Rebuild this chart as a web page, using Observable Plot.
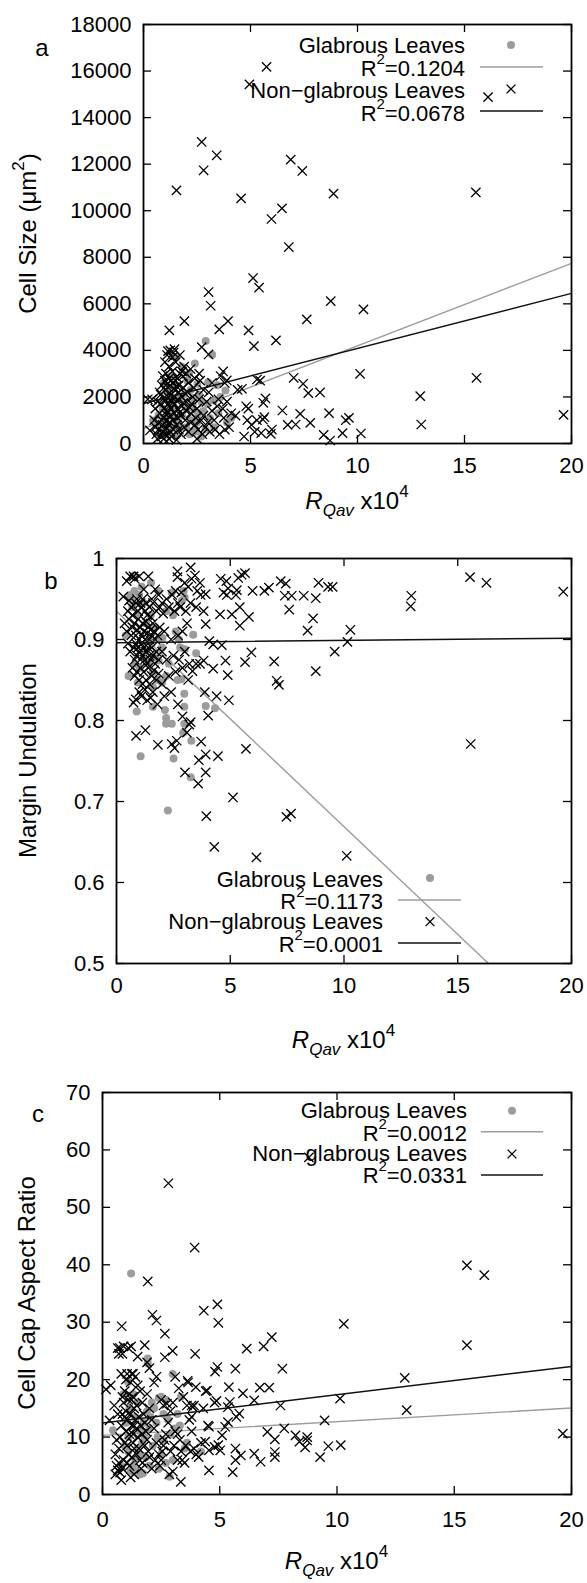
<!DOCTYPE html>
<html><head><meta charset="utf-8">
<script src="https://cdn.jsdelivr.net/npm/d3@7"></script>
<script src="https://cdn.jsdelivr.net/npm/@observablehq/plot@0.6"></script>
<style>body{margin:0;background:#fff;overflow:hidden}svg{display:block}</style>
</head><body><div id="chart"></div>
<script>
// ---------- DATA ----------
const xTicks = [0, 5, 10, 15, 20];
const yTicksA = [0, 2000, 4000, 6000, 8000, 10000, 12000, 14000, 16000, 18000];
const yTicksB = [0.5, 0.6, 0.7, 0.8, 0.9, 1];
const yTicksC = [0, 10, 20, 30, 40, 50, 60, 70];

const legendA = ["Glabrous Leaves", "0.1204", "Non\u2212glabrous Leaves", "0.0678"];
const legendB = ["Glabrous Leaves", "0.1173", "Non\u2212glabrous Leaves", "0.0001"];
const legendC = ["Glabrous Leaves", "0.0012", "Non\u2212glabrous Leaves", "0.0331"];

// fitted lines (endpoints)
const fitGlabA = [[0, 645], [20, 7740]];
const fitNonA = [[0, 1720], [20, 6450]];
const fitGlabB = [[0, 0.935], [16.35, 0.5]];
const fitNonB = [[0, 0.896], [20, 0.9016]];
const fitGlabC = [[0, 10.3], [20, 15.06]];
const fitNonC = [[0, 12.46], [20, 22.3]];

// Panel a: cell size
const glabA = [[2.91,4400],[3.21,3814],[2.40,3440],[2.13,3023],[3.02,2636],[2.52,2567],[3.83,2279],[3.29,1849],[2.7,1800],[2.3,1650],[2.0,1500],[1.8,1200],[1.6,900],[1.4,700],[1.2,500],[1.0,350],[0.8,600],[0.6,800],[0.45,989],[1.54,344],[1.9,2100],[2.2,2300],[2.6,2100],[2.8,1400],[3.1,1100],[3.5,1300],[3.3,700],[2.9,600],[2.5,900],[2.2,1000],[1.7,1900],[1.5,2500],[1.3,2900],[1.1,2200],[0.9,1500],[0.7,1200],[1.0,1000],[1.2,1300],[1.4,1600],[1.6,2000],[2.0,700],[2.4,500],[2.7,300],[3.6,2000],[3.9,900],[4.1,1100],[1.8,3300],[1.55,3700],[2.05,2700],[2.35,1950],[3.0,1700],[3.45,2500],[0.95,2600],[1.25,1800],[1.75,700],[2.15,400],[2.55,1300],[1.45,1100],[0.75,400],[1.05,800]];
const nonA = [[5.75,16180],[4.95,15430],[16.1,14880],[2.72,12954],[3.42,12381],[2.81,11736],[6.88,12195],[7.42,11708],[1.54,10876],[4.56,10532],[8.88,10733],[15.53,10790],[6.47,10103],[5.98,9644],[6.79,8440],[5.12,7108],[5.40,6692],[3.04,6506],[3.14,5918],[8.75,6119],[10.28,5761],[7.63,5331],[1.91,5259],[3.95,5259],[1.21,4858],[3.54,4901],[4.91,4858],[5.16,4184],[6.19,4428],[2.72,4141],[3.04,3826],[1.14,3970],[10.12,2995],[15.56,2823],[7.02,2823],[7.46,2565],[7.70,2164],[8.25,2192],[12.93,2035],[19.63,1232],[12.98,817],[10.16,430],[9.30,444],[8.72,129],[8.42,372],[9.6,1100],[9.45,1000],[8.67,1304],[7.79,888],[7.32,1275],[7.11,817],[6.74,802],[6.49,1418],[5.60,1748],[5.70,1934],[5.58,1031],[5.95,415],[5.3,2750],[5.45,2700],[4.8,1600],[4.9,1500],[4.85,1000],[4.6,2350],[4.4,2300],[4.1,1300],[4.3,1200],[4.0,700],[3.8,600],[3.6,2900],[3.8,2600],[5.2,500],[5.5,450],[5.05,800],[5.3,1000],[4.7,300],[6.0,600],[3.72,3095],[3.89,2708],[5.65,1130],
[0.2,1900],[0.4,1900],[0.3,560],[0.5,1000],[0.55,700],[0.6,400],[0.65,200],[0.7,600],[0.7,900],[0.75,1300],[0.8,1700],[0.8,2100],[0.85,2500],[0.85,300],[0.9,500],[0.9,800],[0.95,1100],[0.95,1500],[1.0,1800],[1.0,2300],[1.0,2700],[1.05,3000],[1.05,400],[1.1,650],[1.1,1000],[1.1,1400],[1.15,1700],[1.15,2000],[1.15,2400],[1.2,2800],[1.2,3300],[1.2,200],[1.25,500],[1.25,900],[1.25,1200],[1.3,1500],[1.3,1800],[1.3,2100],[1.35,2600],[1.35,3100],[1.35,3700],[1.4,3900],[1.4,600],[1.4,1000],[1.45,1300],[1.45,1700],[1.45,2000],[1.5,2300],[1.5,2700],[1.5,3500],[1.55,150],[1.55,800],[1.6,1100],[1.6,1500],[1.6,1900],[1.65,2200],[1.65,2500],[1.7,3000],[1.7,3800],[1.75,400],[1.75,1200],[1.8,1600],[1.8,2000],[1.85,2400],[1.85,2900],[1.9,3300],[1.9,700],[1.95,1000],[2.0,1400],[2.0,1800],[2.05,2200],[2.1,2600],[2.1,500],[2.2,900],[2.2,1300],[2.25,1700],[2.3,2000],[2.35,2400],[2.4,800],[2.45,1100],[2.5,1500],[2.55,600],[2.6,3000],[2.65,2700],[2.7,1000],[2.75,400],[2.8,1200],[2.9,700],[3.0,900],[3.05,2200],[3.1,500],[3.2,1400],[3.3,1000],[3.35,600],[3.45,1600],[3.5,1900],[3.55,400],[3.7,1500],[3.75,1100],[3.9,1800],[0.55,1500],[0.65,1800],[0.75,2200],[0.9,2900],[1.0,3500],[1.1,3800],[1.25,4000],[1.45,4050],[0.95,200],[1.3,300],[1.65,600],[1.05,1250],[1.2,1600],[1.35,1950],[1.55,2450],[1.7,1350],[1.85,1750],[1.95,2150],[1.0,600],[0.85,1000],[1.15,850],[1.4,2350],[1.6,2800],[1.8,3100],[1.3,2700],[1.1,2550],[0.95,1950],[2.0,3000],[2.2,3200],[2.4,2800],[2.15,1550],[2.6,1900],[2.8,2300],[2.5,200],[2.95,1800],[3.2,2600]];

// Panel b: margin undulation
const glabB = [[1.06,0.756],[2.26,0.689],[0.89,0.811],[1.6,0.817],[2.13,0.813],[2.18,0.803],[2.18,0.796],[2.43,0.796],[2.51,0.753],[2.98,0.817],[2.98,0.796],[2.93,0.785],[3.29,0.775],[3.26,0.730],[3.92,0.818],[4.33,0.815],[2.98,0.833],[2.85,0.851],[2.68,0.850],[3.5,0.883],[3.37,0.906],[2.48,0.930],[2.88,0.948],[3.0,0.952],[2.95,0.96],[2.43,0.958],[2.8,0.89],[3.0,0.888],[2.18,0.855],[2.0,0.847],[1.6,0.841],[1.02,0.865],[0.41,0.905],[0.53,0.855],[1.19,0.878],[0.94,0.847],[0.69,0.948],[0.79,0.960],[1.1,0.965],[1.52,0.97],[0.78,0.979],[1.85,0.96],[2.18,0.935],[1.69,0.878],[1.85,0.874],[2.02,0.902],[1.44,0.898],[0.6,0.955],[0.7,0.94],[0.9,0.93],[1.0,0.955],[1.2,0.945],[1.3,0.92],[1.5,0.93],[1.7,0.915],[1.9,0.9],[2.0,0.89],[1.2,0.885],[1.4,0.87],[0.8,0.87],[1.6,0.86],[1.8,0.85],[2.3,0.87],[2.6,0.91],[2.75,0.9]];
const nonB = [[15.54,0.977],[16.26,0.970],[19.64,0.959],[12.96,0.954],[12.93,0.941],[15.57,0.771],[10.28,0.912],[10.15,0.897],[9.59,0.885],[8.76,0.861],[8.40,0.911],[8.64,0.926],[8.88,0.970],[9.3,0.965],[9.5,0.965],[8.23,0.954],[8.76,0.951],[7.7,0.954],[7.4,0.954],[7.59,0.937],[7.22,0.972],[7.44,0.969],[6.93,0.873],[7.04,0.849],[7.14,0.844],[7.47,0.681],[7.67,0.685],[10.12,0.633],[6.15,0.631],[5.12,0.705],[4.30,0.644],[3.95,0.682],[5.69,0.765],[4.46,0.756],[3.92,0.736],[3.92,0.758],[3.72,0.774],[3.62,0.751],[3.59,0.722],[3.01,0.736],[4.40,0.830],[3.88,0.835],[4.03,0.806],[4.94,0.825],[4.89,0.856],[4.79,0.874],[5.65,0.872],[5.93,0.884],[5.42,0.917],[5.42,0.940],[5.82,0.928],[5.07,0.931],[4.55,0.931],[5.98,0.960],[6.5,0.960],[6.7,0.964],[5.5,0.98],[5.65,0.982],[5.35,0.976],[4.58,0.975],[4.83,0.972],[4.91,0.963],[5.29,0.961],[4.85,0.955],[4.7,0.958],[5.25,0.955],[3.26,0.989],[2.68,0.984],[2.68,0.977],[3.45,0.979],[3.67,0.970],[3.92,0.956],[3.83,0.935],[3.92,0.919],[4.08,0.898],[4.25,0.894],[4.63,0.893],[4.25,0.864],[3.83,0.874],[3.5,0.870],[3.67,0.870],[3.34,0.861],[3.26,0.798],[3.09,0.785],
[0.3,0.953],[0.45,0.972],[0.6,0.978],[0.75,0.978],[0.8,0.975],[1.0,0.978],[1.2,0.962],[1.4,0.978],[1.55,0.95],[1.7,0.962],[1.85,0.955],[2.0,0.945],[2.2,0.95],[2.45,0.955],[2.6,0.96],[2.7,0.945],[2.85,0.958],[3.0,0.97],[3.15,0.965],[3.3,0.975],[3.55,0.96],[3.7,0.955],
[0.5,0.935],[0.55,0.948],[0.65,0.94],[0.7,0.93],[0.85,0.945],[0.9,0.95],[0.95,0.935],[1.05,0.945],[1.1,0.94],[1.15,0.95],[1.25,0.935],[1.3,0.945],[1.35,0.93],[1.45,0.94],[1.5,0.928],[1.6,0.945],[1.75,0.935],[1.9,0.94],[2.05,0.932],[2.3,0.94],[2.55,0.935],[2.8,0.94],[3.05,0.935],[3.25,0.945],[3.5,0.94],
[0.35,0.92],[0.45,0.91],[0.55,0.925],[0.65,0.905],[0.7,0.915],[0.8,0.92],[0.85,0.905],[0.9,0.912],[0.95,0.925],[1.0,0.9],[1.05,0.915],[1.1,0.905],[1.15,0.92],[1.2,0.91],[1.25,0.9],[1.3,0.922],[1.35,0.908],[1.4,0.915],[1.45,0.9],[1.5,0.912],[1.55,0.905],[1.6,0.92],[1.65,0.91],[1.7,0.9],[1.8,0.905],[1.9,0.915],[2.1,0.91],[2.4,0.9],[2.7,0.905],[2.9,0.91],[3.1,0.92],
[0.5,0.895],[0.6,0.885],[0.75,0.89],[0.8,0.875],[0.85,0.895],[0.9,0.88],[0.95,0.89],[1.0,0.885],[1.05,0.875],[1.1,0.895],[1.15,0.88],[1.2,0.89],[1.25,0.875],[1.3,0.885],[1.35,0.87],[1.4,0.89],[1.45,0.88],[1.5,0.875],[1.55,0.89],[1.6,0.88],[1.7,0.87],[1.75,0.885],[1.85,0.875],[2.0,0.885],[2.2,0.875],[2.5,0.88],[2.75,0.875],[3.0,0.885],[3.2,0.87],
[0.7,0.865],[0.8,0.855],[0.9,0.86],[1.0,0.85],[1.05,0.865],[1.15,0.845],[1.2,0.86],[1.3,0.85],[1.4,0.865],[1.45,0.845],[1.55,0.855],[1.65,0.862],[1.75,0.85],[1.85,0.858],[2.0,0.845],[2.3,0.855],[2.6,0.86],[2.9,0.865],[3.15,0.85],
[0.75,0.822],[0.85,0.826],[1.0,0.835],[1.1,0.83],[1.25,0.838],[1.35,0.825],[1.5,0.828],[1.6,0.835],[1.8,0.82],[2.1,0.83],[2.4,0.835],[2.7,0.82],[3.2,0.795],[2.9,0.805],
[0.86,0.781],[1.27,0.788],[1.82,0.770],[2.43,0.771],[2.55,0.766],[2.65,0.775]];

// Panel c: cell cap aspect ratio
const glabC = [[1.22,38.5],[1.93,23.7],[1.93,22.8],[2.99,21.0],[3.34,17.0],[2.5,17.0],[2.4,16.8],[2.1,16.0],[2.2,15.0],[2.6,14.0],[2.8,13.0],[2.3,12.5],[2.0,11.5],[1.8,10.0],[1.7,9.0],[1.5,8.0],[1.6,7.0],[1.4,6.0],[1.3,5.0],[1.5,4.0],[1.6,3.5],[1.73,3.7],[2.86,3.1],[2.7,5.5],[2.5,7.0],[2.6,9.5],[2.9,10.5],[3.1,11.5],[3.3,12.0],[3.5,8.0],[3.6,9.0],[4.2,7.5],[0.45,11.2],[1.09,19.6],[0.9,17.5],[1.0,12.5],[1.1,7.5],[0.8,5.0],[1.2,4.0],[1.15,15.0],[1.4,13.5],[1.6,11.0],[1.75,12.5],[1.9,14.5],[2.05,13.5],[2.35,10.0],[2.15,8.5],[1.85,6.5],[2.0,5.0],[2.4,4.5],[3.0,6.0],[3.2,14.0],[0.95,8.5],[1.3,17.5],[1.5,16.0],[2.7,16.5],[1.1,10.0]];
const nonC = [[2.81,54.2],[8.8,58.7],[3.93,43.0],[15.54,39.9],[16.28,38.2],[1.93,37.1],[4.90,33.1],[4.94,29.9],[4.32,32.0],[10.29,29.7],[2.13,31.3],[2.30,30.3],[2.66,28.0],[0.82,29.3],[15.54,26.0],[7.22,27.4],[6.87,25.8],[6.15,25.4],[3.95,24.5],[2.99,25.0],[2.66,23.9],[0.74,25.5],[0.85,24.5],[1.22,25.8],[1.8,26.0],[4.9,22.2],[4.8,21.4],[5.67,21.9],[7.67,21.9],[12.89,20.3],[12.97,14.7],[10.13,16.7],[19.63,10.6],[9.47,12.9],[9.63,8.4],[10.16,8.6],[9.28,6.5],[8.73,10.0],[8.73,9.4],[8.64,8.2],[8.23,10.3],[8.4,9.2],[7.75,11.5],[7.59,15.5],[7.11,18.6],[6.71,18.6],[7.03,10.9],[7.35,9.6],[7.35,7.4],[7.35,6.5],[6.74,5.7],[6.47,7.1],[6.47,16.4],[5.99,17.6],[5.83,14.1],[5.71,13.5],[5.9,6.8],[5.67,8.0],[5.67,6.0],[5.55,3.9],[5.39,18.7],[5.43,16.1],[5.35,15.2],[5.35,12.6],[5.23,11.8],[5.1,10.3],[4.94,8.6],[5.02,7.7],[4.78,8.3],[4.86,16.3],[4.78,16.0],[4.46,18.1],[4.54,11.8],[4.38,9.2],[4.54,7.7],[4.54,4.2],[3.9,15.5],[3.85,15.2],[3.8,13.5],[3.98,18.7],[3.63,19.8],
[0.15,18.3],[0.35,19.0],[0.3,12.9],[0.5,15.5],[0.55,3.5],[0.6,5.0],[0.65,4.2],[0.7,5.5],[0.75,3.8],[0.8,2.5],[0.85,4.5],[0.9,6.0],[0.7,8.0],[0.75,10.0],[0.8,12.0],[0.85,14.0],[0.9,16.0],[0.95,18.0],[1.0,20.0],[0.8,21.0],[0.85,17.0],[0.95,13.5],[1.0,11.0],[1.05,8.5],[1.1,7.0],[1.15,5.0],[1.2,3.0],[1.25,6.5],[1.3,9.0],[1.0,14.5],[1.05,13.0],[1.1,16.5],[1.15,17.5],[1.2,19.5],[1.25,21.0],[1.3,17.0],[1.35,15.0],[1.4,13.0],[1.45,11.5],[1.5,10.0],[1.55,8.0],[1.6,6.0],[1.65,4.5],[1.4,20.5],[1.5,19.0],[1.6,18.0],[1.7,16.0],[1.75,14.0],[1.8,12.5],[1.85,11.0],[1.9,9.5],[1.95,7.5],[2.0,6.5],[1.2,14.0],[1.25,12.0],[1.3,10.5],[1.35,8.0],[1.45,7.0],[1.55,13.5],[1.65,12.0],[1.7,10.5],[1.8,8.5],[1.9,17.5],[2.0,15.0],[2.1,13.0],[2.2,11.5],[2.3,9.0],[2.4,7.0],[2.5,6.0],[2.6,8.5],[2.7,10.5],[2.8,12.5],[2.9,14.5],[3.0,16.0],[2.2,19.5],[2.5,16.5],[2.6,15.5],[2.75,15.8],[3.1,11.0],[3.2,10.5],[3.3,9.5],[3.4,6.0],[3.5,5.5],[3.34,2.2],[3.0,4.0],[2.85,3.5],[2.3,20.5],[2.0,22.0],[1.9,23.0],[3.1,20.5],[3.25,18.5],[3.45,17.0],[3.6,15.5],[3.7,13.0],[3.8,11.0],[3.9,8.0],[4.0,7.0],[4.1,6.5],[4.2,9.0],[4.3,15.0],[4.4,18.0],[4.5,12.0],[3.65,19.5],[3.8,15.5],[0.65,25.5],[0.7,24.5],[0.9,25.8],[1.1,25.5],[1.5,24.0],[1.05,21.0],[1.3,21.0],[1.45,15.5],[0.95,9.0],[1.15,10.5],[1.35,12.0],[1.25,16.5],[1.05,5.5],[1.35,3.5],[1.7,5.5],[2.1,4.5],[2.25,6.0],[2.45,5.0],[2.55,7.5],[2.65,9.5],[2.9,7.5],[3.05,8.5],[3.2,6.0],[3.35,7.5],[3.55,8.5],[3.75,7.5],[0.6,9.5],[0.55,7.0],[0.65,14.0]];

// ---------- DRAWING ----------
const FONT = "'Liberation Sans', Arial, Helvetica, sans-serif";
const GRAY = "#9c9c9c";
const W = 587;
const FS = 22;     // tick / legend font size
const FT = 24;     // axis title font size

function richText(svg, x, y, anchor, parts, rotate, size = FS) {
  const t = d3.select(svg).append("text")
    .attr("font-family", FONT).attr("font-size", size).attr("fill", "black")
    .attr("text-anchor", anchor);
  if (rotate) t.attr("transform", `translate(${x},${y}) rotate(-90)`);
  else t.attr("x", x).attr("y", y);
  for (const p of parts) {
    const s = t.append("tspan").text(p.t);
    if (p.dy) s.attr("dy", p.dy);
    if (p.size) s.attr("font-size", p.size);
    if (p.italic) s.attr("font-style", "italic");
  }
  return t;
}

function panel(cfg) {
  const fw = cfg.R - cfg.L, fh = cfg.B - cfg.T;
  const fx = d => d[0], fy = d => d[1];
  const svg = Plot.plot({
    width: W, height: cfg.H,
    marginLeft: cfg.L, marginRight: W - cfg.R, marginTop: cfg.T, marginBottom: cfg.H - cfg.B,
    style: {fontFamily: FONT, fontSize: FS + "px", background: "#fff", color: "#000"},
    x: {domain: [0, 20]},
    y: {domain: cfg.ydomain},
    marks: [
      Plot.dot(cfg.glab, {x: fx, y: fy, r: 4, fill: GRAY, stroke: null}),
      Plot.line(cfg.fitGlab, {x: fx, y: fy, stroke: GRAY, strokeWidth: 1.4}),
      Plot.dot(cfg.non, {x: fx, y: fy, symbol: "times", r: 4.3, stroke: "#000", strokeWidth: 1.3}),
      Plot.line(cfg.fitNon, {x: fx, y: fy, stroke: "#111", strokeWidth: 1.5}),
      Plot.tickX(xTicks, {x: d => d, insetTop: fh - 8, stroke: "#000", strokeWidth: 1.3}),
      Plot.tickX(xTicks, {x: d => d, insetBottom: fh - 8, stroke: "#000", strokeWidth: 1.3}),
      Plot.tickY(cfg.yticks, {y: d => d, insetRight: fw - 8, stroke: "#000", strokeWidth: 1.3}),
      Plot.tickY(cfg.yticks, {y: d => d, insetLeft: fw - 8, stroke: "#000", strokeWidth: 1.3}),
      Plot.frame({stroke: "#000", strokeWidth: 1.8}),
      Plot.axisX({ticks: xTicks, tickSize: 0, tickPadding: cfg.xpad, label: null, fontSize: FS, tickFormat: d => String(d)}),
      Plot.axisY({ticks: cfg.yticks, tickSize: 0, tickPadding: 12, label: null, fontSize: FS, tickFormat: d => String(d)})
    ]
  });
  // panel letter
  richText(svg, cfg.letterPos[0], cfg.letterPos[1], "middle", [{t: cfg.letter}], false, FT);
  // y title
  richText(svg, cfg.ytitlePos[0] + 8, cfg.ytitlePos[1], "middle", cfg.ytitle, true, FT);
  // x title
  richText(svg, (cfg.L + cfg.R) / 2, cfg.xtitleY, "middle",
    [{t: "R", italic: true}, {t: "Qav", italic: true, size: 17, dy: 7}, {t: " x10", dy: -7}, {t: "4", size: 17, dy: -12}], false, FT);
  // legend
  const lg = cfg.legend, L = cfg.leg, s = d3.select(svg);
  richText(svg, L.right, L.base[0], "end", [{t: lg[0]}]);
  richText(svg, L.right, L.base[1], "end", [{t: "R"}, {t: "2", size: 15, dy: -12}, {t: "=" + lg[1], dy: 12}]);
  richText(svg, L.right, L.base[2], "end", [{t: lg[2]}]);
  richText(svg, L.right, L.base[3], "end", [{t: "R"}, {t: "2", size: 15, dy: -12}, {t: "=" + lg[3], dy: 12}]);
  s.append("circle").attr("cx", L.sx).attr("cy", L.sy[0]).attr("r", 4).attr("fill", GRAY);
  s.append("line").attr("x1", L.lx[0]).attr("x2", L.lx[1]).attr("y1", L.sy[1]).attr("y2", L.sy[1]).attr("stroke", GRAY).attr("stroke-width", 1.4);
  const k = 4.4;
  s.append("path").attr("d", `M${L.sx - k},${L.sy[2] - k}L${L.sx + k},${L.sy[2] + k}M${L.sx - k},${L.sy[2] + k}L${L.sx + k},${L.sy[2] - k}`).attr("stroke", "#000").attr("stroke-width", 1.3);
  s.append("line").attr("x1", L.lx[0]).attr("x2", L.lx[1]).attr("y1", L.sy[3]).attr("y2", L.sy[3]).attr("stroke", "#111").attr("stroke-width", 1.5);
  return svg;
}

const root = document.getElementById("chart");
root.append(panel({
  H: 520, L: 143, R: 571, T: 24, B: 443, ydomain: [0, 18000], yticks: yTicksA, xpad: 14,
  glab: glabA, non: nonA, fitGlab: fitGlabA, fitNon: fitNonA,
  letter: "a", letterPos: [42, 56],
  ytitle: [{t: "Cell Size (\u03bcm"}, {t: "2", size: 17, dy: -12}, {t: ")", dy: 12}], ytitlePos: [28, 233.5],
  xtitleY: 509, legend: legendA,
  leg: {right: 465, base: [53, 76, 98, 121], sx: 511, sy: [45, 67, 89, 111], lx: [480, 543]}
}));
root.append(panel({
  H: 540, L: 116, R: 571, T: 38, B: 443, ydomain: [0.5, 1], yticks: yTicksB, xpad: 14,
  glab: glabB, non: nonB, fitGlab: fitGlabB, fitNon: fitNonB,
  letter: "b", letterPos: [51, 68.5],
  ytitle: [{t: "Margin Undulation"}], ytitlePos: [28, 240.5],
  xtitleY: 528, legend: legendB,
  leg: {right: 383, base: [367, 389, 409, 432], sx: 430, sy: [358, 380, 401.7, 423], lx: [398, 461]}
}));
root.append(panel({
  H: 523, L: 102, R: 571, T: 32, B: 434, ydomain: [0, 70], yticks: yTicksC, xpad: 17,
  glab: glabC, non: nonC, fitGlab: fitGlabC, fitNon: fitNonC,
  letter: "c", letterPos: [38, 61.5],
  ytitle: [{t: "Cell Cap Aspect Ratio"}], ytitlePos: [27, 233],
  xtitleY: 509, legend: legendC,
  leg: {right: 467, base: [58, 81, 101, 123], sx: 512, sy: [50.7, 71.7, 94, 115], lx: [481, 543]}
}));
</script></body></html>
